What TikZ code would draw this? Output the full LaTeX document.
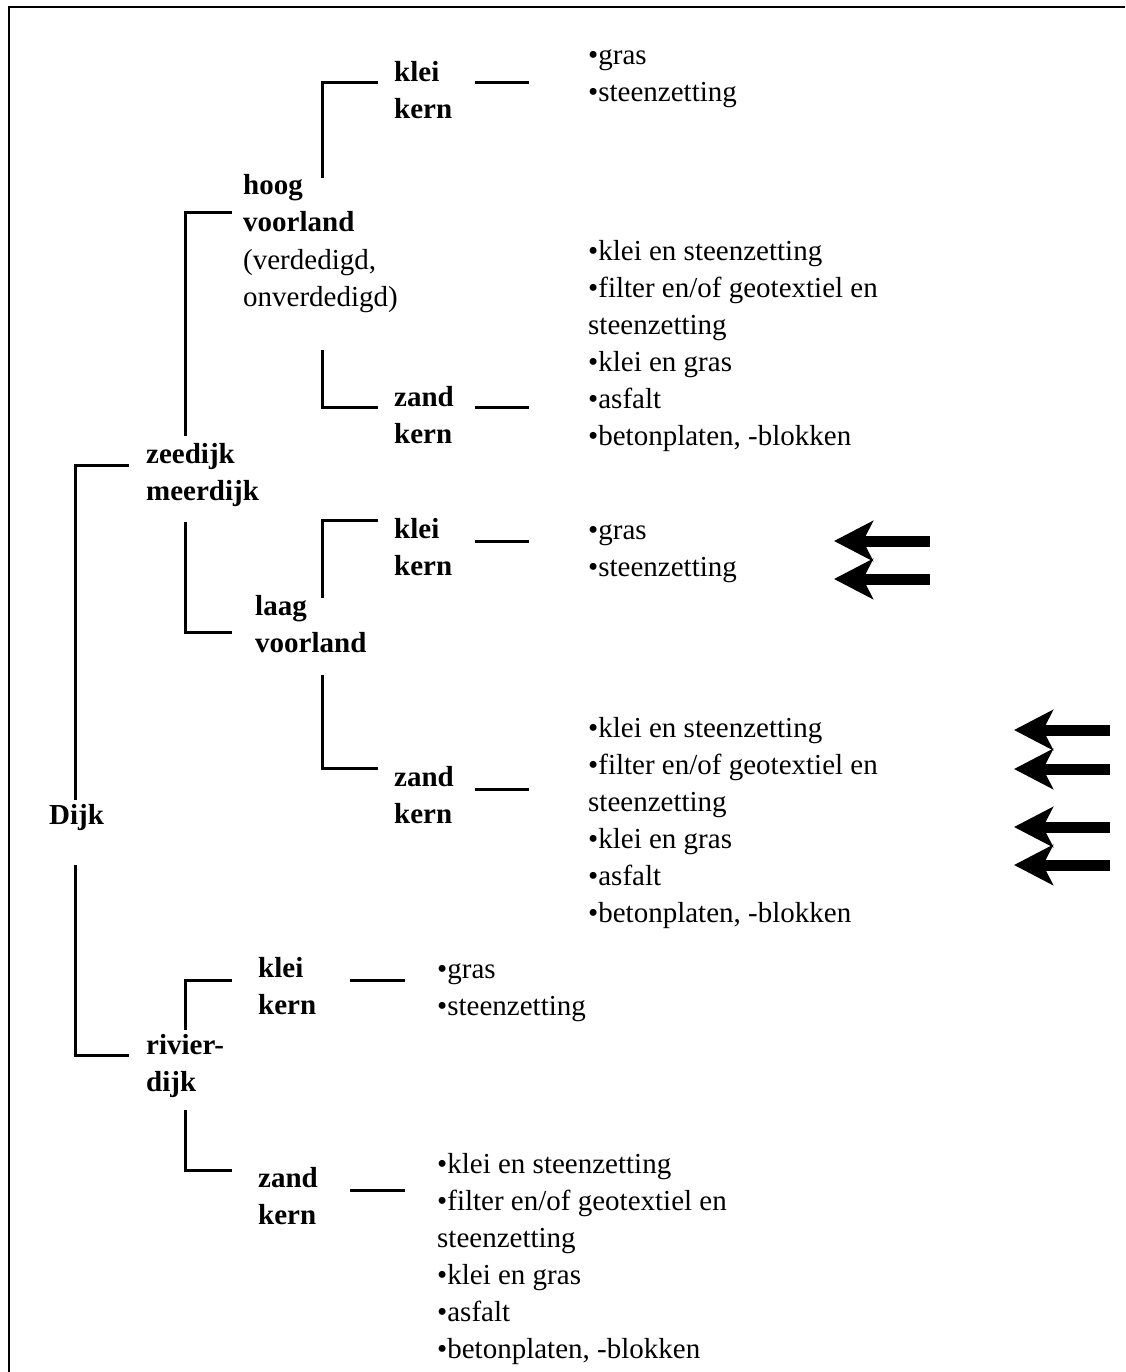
\documentclass[tikz,border=0pt]{standalone}
\usepackage{fontspec}
\setmainfont{Liberation Serif}
\usetikzlibrary{arrows.meta}
\begin{document}
\begin{tikzpicture}[x=1pt,y=-1pt,
  % labels are placed by the baseline of their last line
  txt/.style={font=\fontsize{29}{37}\selectfont,align=left,inner sep=0pt,anchor=base west},
  hd/.style={txt,font=\fontsize{29}{37}\selectfont\bfseries},
  conn/.style={line width=3pt},
  bigarrow/.style={line width=11pt,-{Stealth[length=39pt,width=40pt,inset=10pt]}}]
\useasboundingbox (0,0) rectangle (1125,1372);
% frame (top and left edges)
\draw[line width=2pt] (9,1372) -- (9,7) -- (1125,7);

% root
\node[hd] (dijk) at (49,824) {Dijk};

% --- zeedijk / meerdijk branch ---
\node[hd] (zee) at (146,500) {zeedijk\\meerdijk};
\coordinate (dTop) at (75,800);
\coordinate (zeeL) at (129,465);
\draw[conn] (dTop) |- (zeeL);

\node[hd] (hoog) at (243,232) {hoog\\voorland};
\node[txt] (hoogsub) at (243,306) {(verdedigd,\\onverdedigd)};
\coordinate (zUp) at (185,436);
\coordinate (hoogL) at (232,213);
\draw[conn] (zUp) |- (hoogL);

\node[hd] (laag) at (255,652) {laag\\voorland};
\coordinate (zDn) at (185,522);
\coordinate (laagL) at (232,632);
\draw[conn] (zDn) |- (laagL);

% hoog voorland: klei kern
\node[hd] (hk) at (394,119) {klei\\kern};
\coordinate (hkA) at (322,178);
\coordinate (hkL) at (378,83);
\draw[conn] (hkA) |- (hkL);
\coordinate (hkR1) at (475,83);
\coordinate (hkR2) at (529,83);
\draw[conn] (hkR1) -- (hkR2);
\node[txt] (hkl) at (588,102) {•gras\\•steenzetting};

% hoog voorland: zand kern
\node[hd] (hz) at (394,443) {zand\\kern};
\coordinate (hzA) at (322,350);
\coordinate (hzL) at (378,407);
\draw[conn] (hzA) |- (hzL);
\coordinate (hzR1) at (475,407);
\coordinate (hzR2) at (529,407);
\draw[conn] (hzR1) -- (hzR2);
\node[txt] (hzl) at (588,445) {•klei en steenzetting\\•filter en/of geotextiel en\\steenzetting\\•klei en gras\\•asfalt\\•betonplaten, -blokken};

% laag voorland: klei kern
\node[hd] (lk) at (394,575) {klei\\kern};
\coordinate (lkA) at (322,598);
\coordinate (lkL) at (378,520);
\draw[conn] (lkA) |- (lkL);
\coordinate (lkR1) at (475,541);
\coordinate (lkR2) at (529,541);
\draw[conn] (lkR1) -- (lkR2);
\node[txt] (lkl) at (588,576) {•gras\\•steenzetting};

% laag voorland: zand kern
\node[hd] (lz) at (394,823) {zand\\kern};
\coordinate (lzA) at (322,675);
\coordinate (lzL) at (378,768);
\draw[conn] (lzA) |- (lzL);
\coordinate (lzR1) at (475,789);
\coordinate (lzR2) at (529,789);
\draw[conn] (lzR1) -- (lzR2);
\node[txt] (lzl) at (588,922) {•klei en steenzetting\\•filter en/of geotextiel en\\steenzetting\\•klei en gras\\•asfalt\\•betonplaten, -blokken};

% --- rivierdijk branch ---
\node[hd] (riv) at (146,1091) {rivier-\\dijk};
\coordinate (dBot) at (75,865);
\coordinate (rivL) at (129,1055);
\draw[conn] (dBot) |- (rivL);

\node[hd] (rk) at (258,1014) {klei\\kern};
\coordinate (rUp) at (185,1030);
\coordinate (rkL) at (232,980);
\draw[conn] (rUp) |- (rkL);
\coordinate (rkR1) at (350,980);
\coordinate (rkR2) at (405,980);
\draw[conn] (rkR1) -- (rkR2);
\node[txt] (rkl) at (437,1015) {•gras\\•steenzetting};

\node[hd] (rz) at (258,1224) {zand\\kern};
\coordinate (rDn) at (185,1110);
\coordinate (rzL) at (232,1170);
\draw[conn] (rDn) |- (rzL);
\coordinate (rzR1) at (350,1190);
\coordinate (rzR2) at (405,1190);
\draw[conn] (rzR1) -- (rzR2);
\node[txt] (rzl) at (437,1358) {•klei en steenzetting\\•filter en/of geotextiel en\\steenzetting\\•klei en gras\\•asfalt\\•betonplaten, -blokken};

% marker arrows
\coordinate (a1s) at (930,541);  \coordinate (a1e) at (834,541);
\coordinate (a2s) at (930,579);  \coordinate (a2e) at (834,579);
\draw[bigarrow] (a1s) -- (a1e);
\draw[bigarrow] (a2s) -- (a2e);
\coordinate (b1s) at (1110,730); \coordinate (b1e) at (1014,730);
\coordinate (b2s) at (1110,769); \coordinate (b2e) at (1014,769);
\coordinate (b3s) at (1110,827); \coordinate (b3e) at (1014,827);
\coordinate (b4s) at (1110,865); \coordinate (b4e) at (1014,865);
\draw[bigarrow] (b1s) -- (b1e);
\draw[bigarrow] (b2s) -- (b2e);
\draw[bigarrow] (b3s) -- (b3e);
\draw[bigarrow] (b4s) -- (b4e);
\end{tikzpicture}
\end{document}
